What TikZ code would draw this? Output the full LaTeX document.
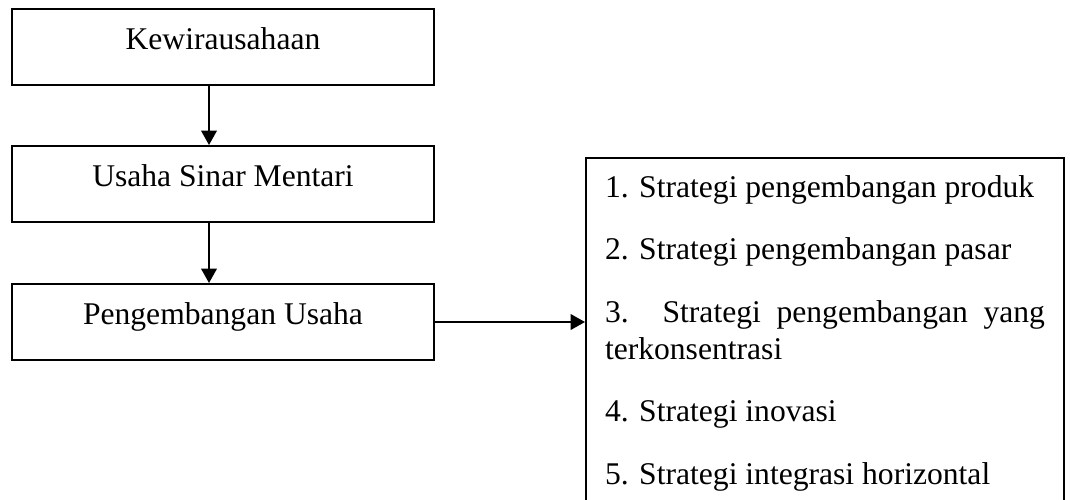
\documentclass[tikz,border=0pt]{standalone}
\usepackage{fontspec}
\setmainfont{Liberation Serif}
\usetikzlibrary{arrows.meta}
\tikzset{kotak/.style={draw=black, line width=1pt, minimum width=211pt, minimum height=38pt, inner sep=0pt, text height=12pt, text depth=10pt, font=\fontsize{15.8}{18}\selectfont},
	daftar/.style={draw=black, line width=1pt, anchor=north west, text width=220pt, inner xsep=9.5pt, inner ysep=8.7pt, align=justify, font=\fontsize{15.8}{18.3}\selectfont},
	panah/.style={-{Triangle[width=7.8pt,length=7.2pt]}, line width=1pt}}

\begin{document}
\begin{tikzpicture}[x=0.5pt, y=-0.5pt]
	%Rahmen
	\useasboundingbox (0,0) rectangle (1070,499);
	\clip (0,0) rectangle (1070,499);
	%Kotak
	\node[kotak] (kwu) at (223,47) {Kewirausahaan};
	\node[kotak] (usm) at (223,184) {Usaha Sinar Mentari};
	\node[kotak] (pu) at (223,322) {Pengembangan Usaha};
	%Strategi
	\node[daftar] (strat) at (585,157) {\setlength{\parskip}{13pt}\hyphenpenalty=10000 \tolerance=10000
		1. Strategi pengembangan produk\par
		2. Strategi pengembangan pasar\par
		3. Strategi pengembangan yang terkonsentrasi\par
		4. Strategi inovasi\par
		5. Strategi integrasi horizontal\par
		\vspace{20pt}};
	%Panah
	\draw[panah] ([xshift=-7pt]kwu.south) -- ([xshift=-7pt]usm.north);
	\draw[panah] ([xshift=-7pt]usm.south) -- ([xshift=-7pt]pu.north);
	\draw[panah] (pu.east) -- (pu.east -| strat.west);
\end{tikzpicture}
\end{document}
